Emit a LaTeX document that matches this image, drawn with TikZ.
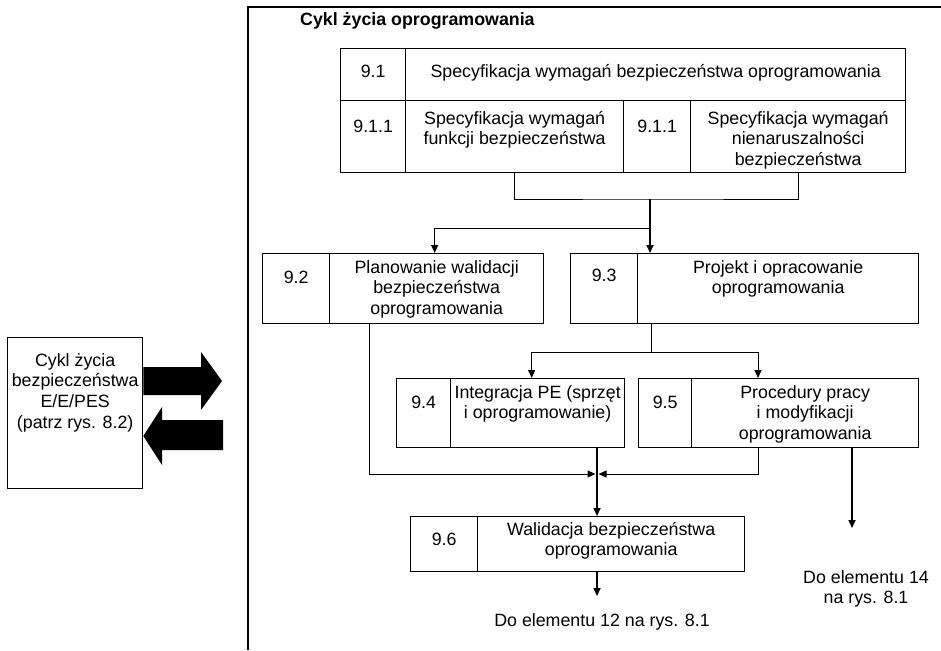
\documentclass[tikz,border=0pt]{standalone}
\usepackage{fontspec}
\setmainfont{Liberation Sans}
\usetikzlibrary{arrows.meta}
\newcommand\tstrut{\rule{0pt}{14pt}}
\begin{document}
\begin{tikzpicture}[x=1pt,y=-1pt,
  cell/.style={draw, line width=1.3pt, rectangle, inner sep=0pt, anchor=north west},
  txt/.style={align=center, inner sep=0pt, anchor=north, font=\fontsize{17.8}{20.7}\selectfont},
  link/.style={line width=1pt},
  mainlink/.style={line width=1.6pt},
  tip/.style={-{Triangle[length=8pt,width=7pt]}},
  bigarrow/.style={fill=black}]
\useasboundingbox (0,0) rectangle (941,650);

% frame of the software life cycle
\draw[line width=1.2pt] (248,650) -- (248,7) -- (941,7);
\node[anchor=base west, inner sep=0pt, font=\fontsize{17.8}{20.7}\selectfont\bfseries] (title) at (300,26) {Cykl życia oprogramowania};

% 9.1 block
\node[cell, minimum width=65pt, minimum height=52pt] (n91) at (340,48) {};
\node[cell, minimum width=500pt, minimum height=52pt] (t91) at (405,48) {};
\node[cell, minimum width=65pt, minimum height=72pt] (n911a) at (340,100) {};
\node[cell, minimum width=218pt, minimum height=72pt] (t911a) at (405,100) {};
\node[cell, minimum width=67pt, minimum height=72pt] (n911b) at (623,100) {};
\node[cell, minimum width=215pt, minimum height=72pt] (t911b) at (690,100) {};
\node[txt] (l91) at (n91.north |- 0,63) {\tstrut 9.1};
\node[txt] (m91) at (t91.north |- 0,63) {\tstrut Specyfikacja wymagań bezpieczeństwa oprogramowania};
\node[txt] (l911a) at (n911a.north |- 0,118) {\tstrut 9.1.1};
\node[txt] (m911a) at (t911a.north |- 0,110) {\tstrut Specyfikacja wymagań\\funkcji bezpieczeństwa};
\node[txt] (l911b) at (n911b.north |- 0,118) {\tstrut 9.1.1};
\node[txt] (m911b) at (t911b.north |- 0,110) {\tstrut Specyfikacja wymagań\\nienaruszalności\\bezpieczeństwa};

% 9.2 and 9.3
\node[cell, minimum width=67pt, minimum height=70pt] (n92) at (262,253) {};
\node[cell, minimum width=214pt, minimum height=70pt] (t92) at (329,253) {};
\node[cell, minimum width=67pt, minimum height=70pt] (n93) at (570,253) {};
\node[cell, minimum width=281pt, minimum height=70pt] (t93) at (637,253) {};
\node[txt] (l92) at (n92.north |- 0,269) {\tstrut 9.2};
\node[txt] (m92) at (t92.north |- 0,259) {\tstrut Planowanie walidacji\\bezpieczeństwa\\oprogramowania};
\node[txt] (l93) at (n93.north |- 0,267) {\tstrut 9.3};
\node[txt] (m93) at (t93.north |- 0,259) {\tstrut Projekt i opracowanie\\oprogramowania};

% 9.4 and 9.5
\node[cell, minimum width=54pt, minimum height=69pt] (n94) at (396,378) {};
\node[cell, minimum width=174pt, minimum height=69pt] (t94) at (450,378) {};
\node[cell, minimum width=53pt, minimum height=69pt] (n95) at (638,378) {};
\node[cell, minimum width=227pt, minimum height=69pt] (t95) at (691,378) {};
\node[txt] (l94) at (n94.north |- 0,394) {\tstrut 9.4};
\node[txt] (m94) at (t94.north |- 0,384) {\tstrut Integracja PE (sprzęt\\i oprogramowanie)};
\node[txt] (l95) at (n95.north |- 0,394) {\tstrut 9.5};
\node[txt] (m95) at (t95.north |- 0,384) {\tstrut Procedury pracy\\i modyfikacji\\oprogramowania};

% 9.6
\node[cell, minimum width=67pt, minimum height=55pt] (n96) at (410,516) {};
\node[cell, minimum width=267pt, minimum height=55pt] (t96) at (477,516) {};
\node[txt] (l96) at (n96.north |- 0,531) {\tstrut 9.6};
\node[txt] (m96) at (t96.north |- 0,521) {\tstrut Walidacja bezpieczeństwa\\oprogramowania};

% outgoing references
\coordinate (e14) at (852,528);
\coordinate (e12) at (597,596);
\node[txt] (r14) at (866,569) {\tstrut Do elementu 14\\na rys. 8.1};
\node[txt] (r12) at (602,612) {\tstrut Do elementu 12 na rys. 8.1};

% E/E/PES life cycle box
\node[cell, minimum width=135pt, minimum height=151pt] (ees) at (7,337) {};
\node[txt] (lees) at (ees.north |- 0,352) {\tstrut Cykl życia\\bezpieczeństwa\\E/E/PES\\(patrz rys. 8.2)};

% exchange arrows
\fill[bigarrow] (ees.east |- 0,367) -- (201,367) -- (201,352) -- (222,381) -- (201,410) -- (201,395) -- (ees.east |- 0,395) -- cycle;
\fill[bigarrow] (223,420) -- (162,420) -- (162,407) -- (ees.east |- 0,436) -- (162,465) -- (162,450) -- (223,450) -- cycle;

% connectors
\coordinate (j1) at (650,199);
\coordinate (j2) at (650,228);
\coordinate (j3) at (651,352);
\coordinate (m) at (597,474);
\draw[link] (t911a.south) |- (j1) -| (t911b.south);
\draw[mainlink, tip] (j1) -- (j1 |- t93.north);
\draw[link, tip] (j2) -| ([xshift=-2pt]t92.north);
\draw[link] (t93.south -| j3) -- (j3);
\draw[link, tip] (j3) -| ([xshift=-6pt]t94.north);
\draw[link, tip] (j3) -| (758,378);
\draw[link, tip] ([xshift=-67pt]t92.south) |- ([xshift=-1.5pt]m);
\draw[link, tip] ([xshift=-46.5pt]t95.south) |- ([xshift=1.5pt]m);
\draw[mainlink, tip] (t94.south -| m) -- (t96.north -| m);
\draw[mainlink, tip] (t95.south -| e14) -- (e14);
\draw[mainlink, tip] (t96.south -| e12) -- (e12);
\end{tikzpicture}
\end{document}
